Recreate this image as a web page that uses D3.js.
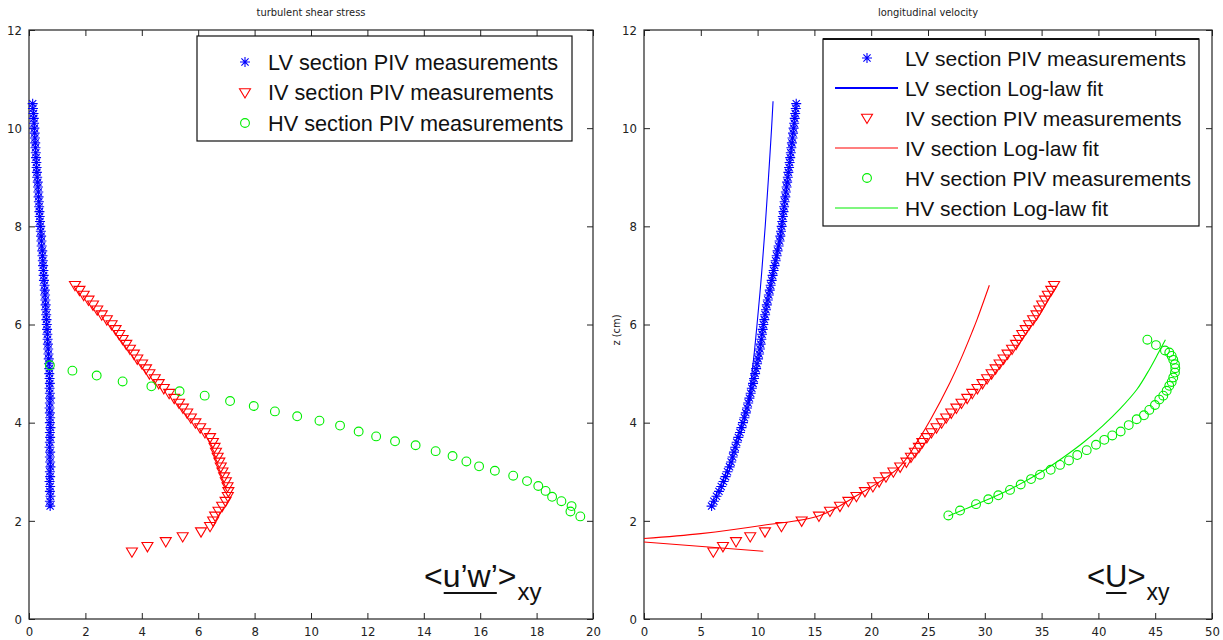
<!DOCTYPE html>
<html>
<head>
<meta charset="UTF-8">
<style>
html, body { margin:0; padding:0; background:#fff; }
svg { display:block; font-family:"Liberation Sans", Arial, sans-serif; }
.tick text { font-family:"Liberation Sans Narrow", "DejaVu Sans Condensed", "Liberation Sans", sans-serif; font-size:13px; fill:#222; }
.tick line { stroke:#222; }
.frame { fill:none; stroke:#222; stroke-width:1.2; }
.legbox { fill:#fff; stroke:#111; stroke-width:1.2; }
.legtext { font-size:21px; fill:#111; }
.title { font-family:"Liberation Sans Narrow", "DejaVu Sans Condensed", "Liberation Sans", sans-serif; font-size:11px; fill:#222; }
</style>
</head>
<body>
<svg width="1223" height="640"></svg>
<script src="https://cdn.jsdelivr.net/npm/d3@7"></script>
<script>
// ---- data (z in cm) ----
var lvZ = [2.3,2.4,2.5,2.6,2.7,2.8,2.9,3.0,3.1,3.2,
  3.3,3.4,3.5,3.6,3.7,3.8,3.9,4.0,4.1,4.2,
  4.3,4.4,4.5,4.6,4.7,4.8,4.9,5.0,5.1,5.2,
  5.3,5.4,5.5,5.6,5.7,5.8,5.9,6.0,6.1,6.2,
  6.3,6.4,6.5,6.6,6.7,6.8,6.9,7.0,7.1,7.2,
  7.3,7.4,7.5,7.6,7.7,7.8,7.9,8.0,8.1,8.2,
  8.3,8.4,8.5,8.6,8.7,8.8,8.9,9.0,9.1,9.2,
  9.3,9.4,9.5,9.6,9.7,9.8,9.9,10.0,10.1,10.2,
  10.3,10.4,10.5];
var lvShear = [0.75,0.74,0.76,0.74,0.75,0.73,0.75,0.74,0.76,0.75,
  0.74,0.75,0.73,0.74,0.75,0.74,0.76,0.74,0.75,0.74,
  0.73,0.74,0.75,0.74,0.73,0.74,0.73,0.72,0.72,0.71,
  0.70,0.69,0.68,0.67,0.66,0.65,0.64,0.63,0.62,0.61,
  0.60,0.59,0.58,0.57,0.56,0.55,0.53,0.52,0.51,0.50,
  0.49,0.48,0.47,0.45,0.44,0.43,0.42,0.40,0.39,0.38,
  0.37,0.36,0.35,0.34,0.33,0.32,0.31,0.29,0.28,0.27,
  0.26,0.25,0.24,0.23,0.22,0.21,0.20,0.19,0.18,0.17,
  0.16,0.14,0.13];
var lvU = [5.95,6.15,6.38,6.60,6.80,7.00,7.18,7.35,7.53,7.67,
  7.80,7.92,8.03,8.16,8.30,8.45,8.58,8.71,8.84,8.96,
  9.07,9.17,9.28,9.39,9.49,9.60,9.69,9.78,9.87,9.95,
  10.04,10.13,10.21,10.27,10.33,10.39,10.45,10.51,10.59,10.66,
  10.74,10.81,10.90,10.99,11.07,11.15,11.24,11.32,11.41,11.50,
  11.59,11.68,11.76,11.85,11.94,12.00,12.06,12.12,12.17,12.22,
  12.28,12.33,12.38,12.44,12.49,12.55,12.60,12.66,12.71,12.77,
  12.82,12.87,12.92,12.97,13.02,13.07,13.12,13.17,13.22,13.27,
  13.31,13.36,13.40];

var ivZ = [1.37,1.48,1.58,1.68,1.78,1.89,
  2.0,2.1,2.2,2.3,2.4,2.5,2.6,2.7,2.8,2.9,
  3.0,3.1,3.2,3.3,3.4,3.5,3.6,3.7,3.8,3.9,
  4.0,4.1,4.2,4.3,4.4,4.5,4.6,4.7,4.8,4.9,
  5.0,5.1,5.2,5.3,5.4,5.5,5.6,5.7,5.8,5.9,
  6.0,6.1,6.2,6.3,6.4,6.5,6.6,6.7,6.8];
var ivShear = [3.65,4.20,4.85,5.45,6.10,6.42,
  6.53,6.60,6.72,6.85,6.97,7.05,7.07,7.04,6.98,6.92,
  6.86,6.80,6.75,6.69,6.63,6.58,6.52,6.42,6.24,6.07,
  5.90,5.74,5.61,5.46,5.32,5.15,4.97,4.78,4.60,4.46,
  4.27,4.15,4.01,3.84,3.72,3.58,3.45,3.32,3.20,3.07,
  2.93,2.76,2.58,2.42,2.27,2.11,1.94,1.79,1.63];
var ivU = [6.10,6.95,8.10,9.35,10.65,12.10,
  13.88,15.40,16.37,17.25,17.99,18.70,19.45,20.15,20.70,21.30,
  21.95,22.55,23.10,23.50,23.85,24.20,24.50,24.90,25.30,25.75,
  26.20,26.60,27.05,27.50,27.95,28.45,28.90,29.35,29.80,30.20,
  30.60,30.95,31.30,31.65,32.00,32.40,32.75,33.00,33.30,33.60,
  33.90,34.25,34.55,34.80,35.05,35.30,35.55,35.85,36.10];

var hvShearZ = [5.17,5.06,4.96,4.84,4.74,4.64,4.55,4.44,4.34,4.23,4.13,
  4.04,3.94,3.82,3.72,3.62,3.54,3.42,3.32,3.21,3.11,3.02,2.92,2.81,2.71,
  2.61,2.49,2.40,2.30,2.19,2.09];
var hvShear = [0.74,1.54,2.40,3.32,4.34,5.34,6.23,7.13,7.97,8.72,9.51,
  10.30,11.03,11.69,12.31,12.98,13.71,14.42,15.02,15.51,15.96,16.52,17.17,17.66,18.06,
  18.32,18.55,18.88,19.24,19.20,19.55];

var hvUZ = [2.11,2.21,2.34,2.44,2.52,2.63,2.74,2.85,2.94,3.04,3.14,3.23,3.34,3.44,
  3.55,3.65,3.74,3.82,3.95,4.07,4.15,4.26,4.36,4.47,4.55,4.65,4.75,4.83,4.92,
  5.02,5.11,5.19,5.28,5.36,5.43,5.47,5.58,5.69];
var hvU = [26.79,27.82,29.23,30.31,31.19,32.22,33.16,34.07,34.86,35.80,36.62,37.41,38.14,38.97,
  39.79,40.52,41.22,41.96,42.67,43.37,44.01,44.48,44.98,45.36,45.71,46.01,46.24,46.45,46.59,
  46.74,46.77,46.74,46.59,46.45,46.24,45.86,45.07,44.31];

// log-law fits
var lvFitZ = [4.4,4.7,5.0,5.5,6.0,7.0,8.0,9.0,10.0,10.55];
var lvFitU = [9.17,9.34,9.50,9.74,9.95,10.34,10.67,10.96,11.23,11.36];
var ivFitZ = [1.64,1.74,1.91,2.11,2.51,3.10,3.63,4.07,4.82,5.30,5.84,6.11,6.80];
var ivFitU = [0,5,10.5,15.5,18.7,22.5,24.1,25.24,26.94,27.9,28.87,29.33,30.4];
var ivFit2Z = [1.57,1.38];
var ivFit2U = [0,10.5];
var hvFitZ = [2.10,2.34,2.64,3.02,3.29,3.60,3.94,4.28,4.68,5.09,5.43,5.69];
var hvFitU = [26.8,29.3,32.2,35.15,36.9,38.7,40.4,41.9,43.4,44.5,45.3,45.9];

var xTicksShear = [0,2,4,6,8,10,12,14,16,18,20];
var xTicksU = [0,5,10,15,20,25,30,35,40,45,50];
var zTicks = [0,2,4,6,8,10,12];

var BLUE = "#0000ff", RED = "#ff0000", GREEN = "#00ee00";

var svg = d3.select("svg");

function zip(a, b) { return a.map(function(v, i) { return [v, b[i]]; }); }

var markerPath = {
  star: "M-5,0H5M0,-5V5M-3.6,-3.6L3.6,3.6M-3.6,3.6L3.6,-3.6",
  tri: "M-5.5,-3.8L5.5,-3.8L0,5.5Z"
};

function drawMarkers(g, pts, type, color) {
  var sel = g.append("g").selectAll("*").data(pts).enter();
  if (type == "circle") {
    sel.append("circle")
      .attr("cx", function(d) { return d[0]; })
      .attr("cy", function(d) { return d[1]; })
      .attr("r", 4.4)
      .attr("fill", "none").attr("stroke", color).attr("stroke-width", 1.1);
  } else {
    sel.append("path")
      .attr("d", markerPath[type])
      .attr("transform", function(d) { return "translate(" + d[0] + "," + d[1] + ")"; })
      .attr("fill", "none").attr("stroke", color).attr("stroke-width", 1.1);
  }
}

function panel(x0, x1, xmax, xticks, title) {
  var x = d3.scaleLinear().domain([0, xmax]).range([x0, x1]);
  var y = d3.scaleLinear().domain([0, 12]).range([619, 30]);
  var g = svg.append("g");

  g.append("g").attr("transform", "translate(0,619)")
    .call(d3.axisBottom(x).tickValues(xticks).tickSize(-6).tickSizeOuter(0).tickPadding(8));
  g.append("g").attr("transform", "translate(0,30)")
    .call(d3.axisTop(x).tickValues(xticks).tickSize(-6).tickSizeOuter(0).tickFormat(""));
  g.append("g").attr("transform", "translate(" + x0 + ",0)")
    .call(d3.axisLeft(y).tickValues(zTicks).tickSize(-6).tickSizeOuter(0).tickPadding(7));
  g.append("g").attr("transform", "translate(" + x1 + ",0)")
    .call(d3.axisRight(y).tickValues(zTicks).tickSize(-6).tickSizeOuter(0).tickFormat(""));
  g.selectAll(".domain").remove();
  g.append("rect").attr("class", "frame")
    .attr("x", x0).attr("y", 30).attr("width", x1 - x0).attr("height", 589);

  g.append("text").attr("class", "title")
    .attr("x", (x0 + x1) / 2).attr("y", 16).attr("text-anchor", "middle").text(title);

  return { g: g, x: x, y: y };
}

function pts(p, xs, zs) { return zip(xs, zs).map(function(d) { return [p.x(d[0]), p.y(d[1])]; }); }

function fitLine(p, xs, zs, color) {
  var line = d3.line()
    .x(function(d) { return p.x(d[0]); })
    .y(function(d) { return p.y(d[1]); })
    .curve(d3.curveCatmullRom);
  p.g.append("path").datum(zip(xs, zs))
    .attr("d", line).attr("fill", "none").attr("stroke", color).attr("stroke-width", 1.1);
}

function annot(g, x, y, mid, fs) {
  var t = g.append("g").style("font-size", fs + "px").attr("fill", "#111");
  var a = t.append("text").attr("x", x).attr("y", y).text("<");
  var wa = a.node().getComputedTextLength();
  var b = t.append("text").attr("x", x + wa).attr("y", y).text(mid);
  var wb = b.node().getComputedTextLength();
  var c = t.append("text").attr("x", x + wa + wb).attr("y", y).text(">");
  var wc = c.node().getComputedTextLength();
  t.append("line").attr("x1", x + wa + 1).attr("x2", x + wa + wb - 1)
    .attr("y1", y + 6).attr("y2", y + 6).attr("stroke", "#111").attr("stroke-width", 2);
  t.append("text").attr("x", x + wa + wb + wc + 1).attr("y", y + 13)
    .style("font-size", Math.round(fs * 0.75) + "px").text("xy");
}

// ---- left: turbulent shear stress ----
var L = panel(29, 593, 20, xTicksShear, "turbulent shear stress");
drawMarkers(L.g, pts(L, lvShear, lvZ), "star", BLUE);
drawMarkers(L.g, pts(L, ivShear, ivZ), "tri", RED);
drawMarkers(L.g, pts(L, hvShear, hvShearZ), "circle", GREEN);

var legL = L.g.append("g");
legL.append("rect").attr("class", "legbox").attr("x", 197).attr("y", 36).attr("width", 375).attr("height", 105);
var legLItems = [["star", BLUE, "LV section PIV measurements"],
                 ["tri", RED, "IV section PIV measurements"],
                 ["circle", GREEN, "HV section PIV measurements"]];
legLItems.forEach(function(d, i) {
  var cy = 62 + i * 30.5;
  drawMarkers(legL, [[245, cy]], d[0], d[1]);
  legL.append("text").attr("class", "legtext").style("font-size", "21.7px")
    .attr("x", 268).attr("y", cy + 7.5).text(d[2]);
});
annot(L.g, 424, 587, "u\u2019w\u2019", 32);

// ---- right: longitudinal velocity ----
var R = panel(644, 1212, 50, xTicksU, "longitudinal velocity");
R.g.append("text").attr("class", "title")
  .attr("transform", "translate(620,330) rotate(-90)").attr("text-anchor", "middle").text("z (cm)");

drawMarkers(R.g, pts(R, lvU, lvZ), "star", BLUE);
fitLine(R, lvFitU, lvFitZ, BLUE);
drawMarkers(R.g, pts(R, ivU, ivZ), "tri", RED);
fitLine(R, ivFitU, ivFitZ, RED);
fitLine(R, ivFit2U, ivFit2Z, RED);
drawMarkers(R.g, pts(R, hvU, hvUZ), "circle", GREEN);
fitLine(R, hvFitU, hvFitZ, GREEN);

var legR = R.g.append("g");
legR.append("rect").attr("class", "legbox").attr("x", 823).attr("y", 39).attr("width", 376).attr("height", 187);
legR.append("line").attr("x1", 823).attr("x2", 1199).attr("y1", 39).attr("y2", 39).attr("stroke", "#111").attr("stroke-width", 2.2);
var legRItems = [["star", BLUE, "LV section PIV measurements"],
                 ["line", BLUE, "LV section Log-law fit"],
                 ["tri", RED, "IV section PIV measurements"],
                 ["line", RED, "IV section Log-law fit"],
                 ["circle", GREEN, "HV section PIV measurements"],
                 ["line", GREEN, "HV section Log-law fit"]];
legRItems.forEach(function(d, i) {
  var cy = 58 + i * 30;
  if (d[0] == "line") {
    legR.append("line").attr("x1", 835).attr("x2", 898).attr("y1", cy).attr("y2", cy)
      .attr("stroke", d[1]).attr("stroke-width", i == 1 ? 2 : 1.1);
  } else {
    drawMarkers(legR, [[867, cy]], d[0], d[1]);
  }
  legR.append("text").attr("class", "legtext").attr("x", 905).attr("y", cy + 7.5).text(d[2]);
});
annot(R.g, 1087, 587, "U", 31);
</script>
</body>
</html>
